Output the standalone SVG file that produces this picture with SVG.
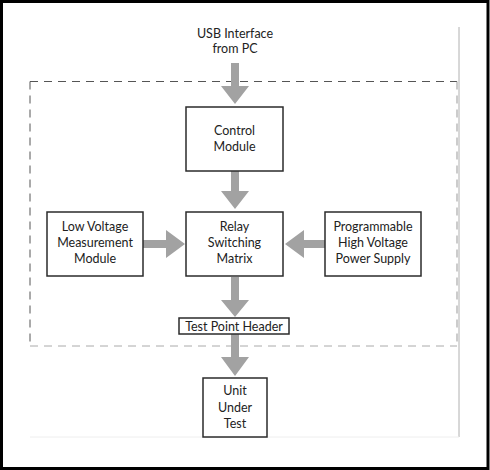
<svg xmlns="http://www.w3.org/2000/svg" width="490" height="470" viewBox="0 0 490 470">
<defs>
<style>
.box{fill:#fff;stroke:#2b2b2b;stroke-width:1.5}
.t{font-family:Lato,"Liberation Sans",sans-serif;font-size:12.5px;fill:#222;text-anchor:middle}
.arr{fill:#a2a2a2}
</style>
</defs>
<rect x="1.5" y="1.5" width="486.5" height="467" fill="#fff" stroke="#000" stroke-width="3"/>
<line x1="459" y1="27" x2="459" y2="437" stroke="#b0b0b0" stroke-width="1"/>
<line x1="30" y1="437" x2="459" y2="437" stroke="#eeeeee" stroke-width="1"/>
<g id="boundary" fill="none" stroke-width="1" stroke-dasharray="8 6">
<line x1="30" y1="81.5" x2="457" y2="81.5" stroke="#555"/>
<line x1="30" y1="81.5" x2="30" y2="346" stroke="#555"/>
<line x1="457" y1="81.5" x2="457" y2="346" stroke="#999"/>
<line x1="30" y1="346" x2="457" y2="346" stroke="#aaa"/>
</g>
<g id="connectors">
<polygon class="arr" points="231,63 239,63 239,86 249,86 235,104 221,86 231,86"/>
<polygon class="arr" points="231,171 239,171 239,191 249,191 235,209 221,191 231,191"/>
<polygon class="arr" points="143,240 166,240 166,230 185,244 166,258 166,248 143,248"/>
<polygon class="arr" points="325,240 304,240 304,230 285,244 304,258 304,248 325,248"/>
<polygon class="arr" points="231,277 239,277 239,300 249,300 235,317 221,300 231,300"/>
<polygon class="arr" points="231,334 239,334 239,357 249,357 235,376 221,357 231,357"/>
</g>
<g id="usb">
<text class="t" x="235" y="38">USB Interface</text>
<text class="t" x="235" y="53">from PC</text>
</g>
<g id="control">
<rect class="box" x="186" y="107" width="97" height="64"/>
<text class="t" x="234.5" y="135">Control</text>
<text class="t" x="234.5" y="151">Module</text>
</g>
<g id="relay">
<rect class="box" x="186" y="212" width="97" height="64"/>
<text class="t" x="234.5" y="231">Relay</text>
<text class="t" x="234.5" y="247">Switching</text>
<text class="t" x="234.5" y="263">Matrix</text>
</g>
<g id="lowvoltage">
<rect class="box" x="47" y="212" width="96" height="64"/>
<text class="t" x="95" y="231">Low Voltage</text>
<text class="t" x="95" y="247">Measurement</text>
<text class="t" x="95" y="263">Module</text>
</g>
<g id="hvps">
<rect class="box" x="325" y="212" width="96" height="64"/>
<text class="t" x="373" y="231">Programmable</text>
<text class="t" x="373" y="247">High Voltage</text>
<text class="t" x="373" y="263">Power Supply</text>
</g>
<g id="tph">
<rect class="box" x="179" y="318" width="110" height="16"/>
<text class="t" x="234" y="331">Test Point Header</text>
</g>
<g id="uut">
<rect class="box" x="203" y="378" width="64" height="59"/>
<text class="t" x="235" y="395">Unit</text>
<text class="t" x="235" y="412">Under</text>
<text class="t" x="235" y="428">Test</text>
</g>
</svg>
